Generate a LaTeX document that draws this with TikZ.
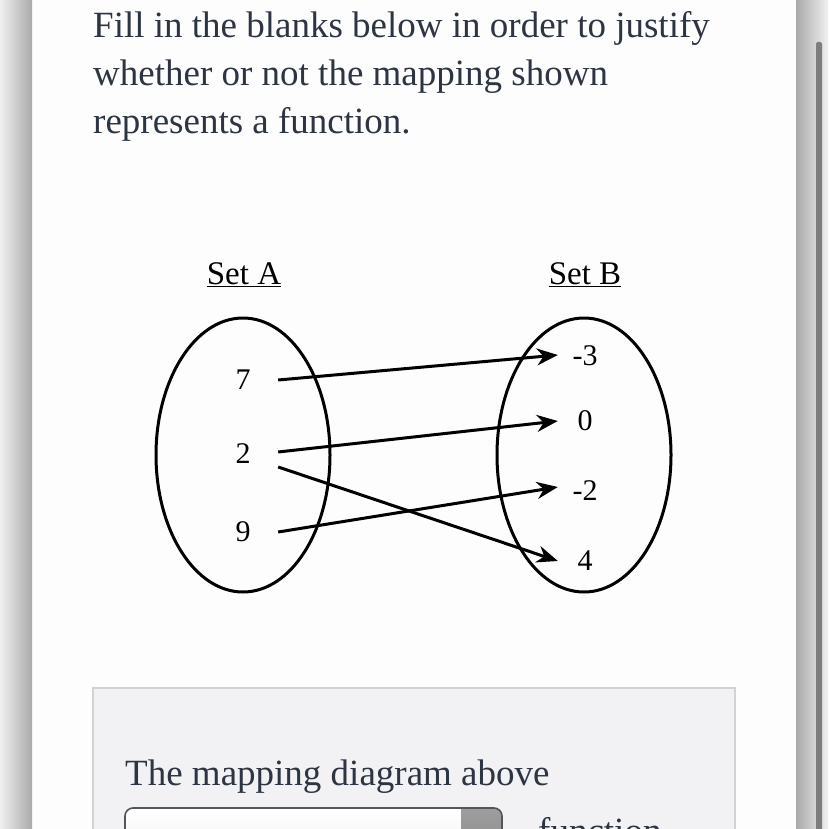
\documentclass[tikz,border=0pt]{standalone}
\usepackage{fontspec}
\setmainfont{Liberation Serif}
\usetikzlibrary{positioning,arrows.meta,shapes.geometric}
\definecolor{pagegray}{RGB}{253,253,253}
\definecolor{inktext}{RGB}{45,52,66}
\definecolor{boxgray}{RGB}{242,242,245}
\definecolor{boxedge}{RGB}{210,210,214}
\definecolor{barshade}{RGB}{170,170,170}
\definecolor{barlight}{RGB}{240,240,240}
\definecolor{scrollgray}{RGB}{125,125,125}
\definecolor{btngray}{RGB}{140,140,140}
\definecolor{pickedge}{RGB}{85,85,85}

\begin{document}
\begin{tikzpicture}[x=1pt, y=-1pt, every node/.style={inner sep=0pt},
    bodytext/.style={anchor=base west, text=inktext, font=\fontsize{37}{48}\selectfont},
    settitle/.style={anchor=base, font=\fontsize{33}{36}\selectfont},
    setoval/.style={draw, ellipse, line width=3pt, minimum width=174pt, minimum height=274pt},
    elemA/.style={font=\fontsize{30}{32}\selectfont, minimum width=70pt},
    elemB/.style={font=\fontsize{30}{32}\selectfont, minimum width=54pt},
    mapto/.style={line width=3pt, -{Stealth[length=21pt,width=17pt]}}]
    \useasboundingbox (0,0) rectangle (828,829);
    \clip (0,0) rectangle (828,829);
    % page and side bars
    \fill[pagegray] (32,0) rectangle (796,829);
    \shade[left color=barlight, right color=barshade] (0,0) rectangle (32,829);
    \shade[left color=barshade, right color=barlight] (796,0) rectangle (828,829);
    \fill[scrollgray, rounded corners=2pt] (816,42) rectangle (822,840);
    % question
    \node[bodytext] (q1) at (93,38) {Fill in the blanks below in order to justify};
    \node[bodytext] (q2) at (93,86) {whether or not the mapping shown};
    \node[bodytext] (q3) at (93,134) {represents a function.};
    % mapping
    \node[settitle] (titleA) at (244,284) {\underline{Set A}};
    \node[settitle] (titleB) at (585,284) {\underline{Set B}};
    \node[setoval] (setA) at (243,455) {};
    \node[setoval] (setB) at (584,455) {};
    \node[elemA] (a7) at (243,380) {7};
    \node[elemA] (a2) at (243,454) {2};
    \node[elemA] (a9) at (243,532) {9};
    \node[elemB] (bm3) at (585,356) {-3};
    \node[elemB] (b0) at (585,421) {0};
    \node[elemB] (bm2) at (585,491) {-2};
    \node[elemB] (b4) at (585,561) {4};
    \draw[mapto] (a7.east) -- ([yshift=1pt]bm3.west);
    \draw[mapto] ([yshift=2pt]a2.east) -- (b0.west);
    \draw[mapto] ([yshift=-13pt]a2.east) -- (b4.west);
    \draw[mapto] (a9.east) -- ([yshift=4pt]bm2.west);
    % answer box
    \draw[boxedge, fill=boxgray, line width=1.2pt] (93,688) rectangle (735,850);
    \node[bodytext] (lead) at (125,785) {The mapping diagram above};
    \begin{scope}
        \clip[rounded corners=8pt] (125,808) rectangle (502,860);
        \shade[top color=white, bottom color=gray!12] (125,808) rectangle (502,860);
        \shade[top color=btngray!85, bottom color=btngray] (461,808) rectangle (502,860);
    \end{scope}
    \draw[pickedge, line width=1.6pt, rounded corners=8pt] (125,860) -- (125,808) -- (502,808) -- (502,860);
    \node[bodytext] (tail) at (538,843) {function.};
\end{tikzpicture}
\end{document}
